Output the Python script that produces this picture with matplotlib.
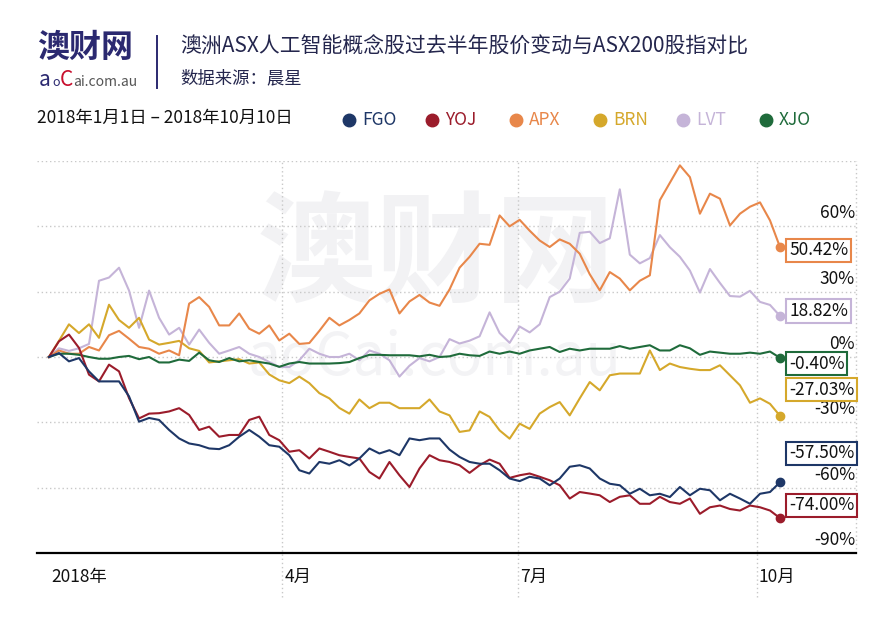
import numpy as np
import pandas as pd
import matplotlib
matplotlib.use('Agg')
import matplotlib.pyplot as plt
from matplotlib.lines import Line2D

plt.rcParams['font.family'] = ['Noto Sans CJK SC', 'DejaVu Sans']

# 74 sample dates, Jan 1 .. Oct 10 2018
dates = pd.date_range('2018-01-01', '2018-10-10', periods=74)

fgo = [0, 1.8, -2, -0.5, -6.6, -11.2, -11.2, -11.2, -18.1, -29.7,
       -28, -28.9, -33.5, -37.4, -39.7, -40.5, -42, -42.3, -40.5, -36.6,
       -33.5, -36.6, -40.5, -41.2, -45.1, -52, -53.5, -48.2, -49, -47.4,
       -49.8, -46.6, -42, -44.3, -42.8, -45.1, -37.4, -38.2, -37.4, -37.4,
       -42.5, -45.9, -48.2, -49, -49, -52, -55.8, -57, -55, -55.8,
       -58.9, -55.8, -50.4, -49.7, -51.2, -55.8, -58.2, -58.9, -62.8, -60.5,
       -63.5, -62.8, -64.3, -59.7, -63.5, -60.5, -61.2, -65.8, -62.8, -65,
       -67.4, -62.8, -62, -57.5]
yoj = [0, 7.2, 10.3, 4.2, -8.1, -11.2, -3.5, -6.6, -18.9, -28.2,
       -26, -25.8, -25, -23.5, -26.6, -33.5, -32, -36.6, -35.8, -35.8,
       -28.9, -27.4, -35.8, -38.2, -43.5, -42.8, -46.6, -42, -43.5, -45.1,
       -45.9, -46.6, -52.8, -55.8, -48.2, -54.3, -59.7, -51.2, -45.1, -47.4,
       -48.2, -49.7, -53.2, -49.7, -47.1, -49, -55.5, -54.3, -53.5, -55,
       -56.6, -58.9, -65, -62, -62.7, -63.5, -66.6, -64.2, -63.5, -67.4,
       -67.4, -64.2, -66.6, -67.4, -65, -72, -69, -68.2, -69.8, -70.5,
       -68.2, -69, -70.5, -74.0]
apx = [0, 3, 1.5, 1.5, 4.6, 3, 10, 12, 8.4, 4.6,
       3.8, 1.5, 3, 0.8, 24.5, 27.5, 23, 14.5, 14.5, 20,
       13, 10.7, 14.5, 7.6, 10.7, 6, 6.4, 12, 18, 14.5,
       17, 20, 26, 29, 31, 20, 25.5, 28.5, 25, 23.5,
       31, 41, 46, 52, 51.5, 65, 60, 63, 58, 53.5,
       50.5, 54, 52, 47.4, 38, 30.6, 39, 36, 30.6, 35,
       37.5, 72, 80, 88, 82.6, 65.8, 75, 72.7, 60.4, 65.8,
       69, 71, 62.7, 50.42]
brn = [0, 7.4, 15, 11, 15, 8.8, 24, 17, 13.4, 18,
       8, 5.7, 6.5, 7.4, 4, 2.8, -2.5, -2, -1.5, -1,
       -3, -2.5, -8, -10.7, -12, -9, -12, -16.6, -19, -23.4,
       -26, -19.5, -23.5, -21, -21, -23.5, -23.5, -23.5, -19.5, -25,
       -26.8, -34.4, -33.7, -25, -27.5, -33.7, -37.5, -30.6, -33, -26,
       -23, -20.7, -26.8, -19, -11.5, -15.3, -8.4, -7.6, -7.6, -7.6,
       3, -6, -3, -4.6, -5.4, -6, -6, -3.8, -8.4, -13,
       -21, -19, -21.5, -27.03]
lvt = [0, 4, 2.8, 4, 6, 35, 36.5, 41, 30.5, 13.4,
       30.5, 18, 10.3, 13.4, 5.7, 12.6, 6.5, 1.5, 3, 4.6,
       1.5, 0, -2.3, -4.6, -4.6, -1.5, 3.8, 1.5, 0, 0,
       1.5, -1.5, 3, 1.5, -1.5, -9, -4, -0.5, -2, 0,
       8.2, 6.2, 7.5, 9.5, 20.5, 11, 6.5, 14, 11.3, 15,
       27.5, 30, 36, 57, 57.5, 52.3, 54.5, 77, 47, 43,
       45.4, 56, 50.4, 46, 39.7, 29.6, 40.4, 34, 28, 27.7,
       30.4, 25.3, 23.9, 18.82]
xjo = [0, 1.5, 1.5, 1, 0, -0.8, -0.8, 0, 0.5, -1,
       0, -2.5, -2.5, -1.2, -1.8, 2, -1.5, -2.3, -0.5, -2,
       -1.5, -2.3, -3, -4.5, -3, -2.3, -3, -3, -3, -2.8,
       -2.3, -0.5, 1, 1, 0.8, 0.8, 0.8, 0.3, 1, 0,
       0.3, 1.5, 0.8, 0.5, 2.5, 1.5, 2.5, 1.5, 3, 3.8,
       4.6, 2.3, 3.8, 3, 3.8, 3.8, 3.8, 5, 3.8, 4.6,
       5.4, 3, 3, 5.4, 4, 1, 2.5, 2, 1.5, 1.5,
       2, 1.5, 2.5, -0.40]

names = ['FGO', 'YOJ', 'APX', 'BRN', 'LVT', 'XJO']
series = [fgo, yoj, apx, brn, lvt, xjo]
colors = ['#1e3767', '#9b1c2b', '#e8874a', '#d5a82b', '#c5b4d8', '#1f6b3b']
end_text = ['-57.50%', '-74.00%', '50.42%', '-27.03%', '18.82%', '-0.40%']
end_dy = [29, 13, -3, 26, 5, -6]   # label box shift (pixels) from end point

tick_dates = ['2018-01-01', '2018-04-01', '2018-07-01', '2018-10-01']
tick_labels = ['2018年', '4月', '7月', '10月']
grid_vals = [90, 60, 30, 0, -30, -60]
ylab_vals = [60, 30, 0, -30, -60, -90]

W, H = 874, 620


def fx(x):
    return x / W


def fy(y):
    return 1 - y / H


fig = plt.figure(figsize=(W / 100, H / 100), dpi=100)
ax = fig.add_axes([fx(37), fy(553), fx(856) - fx(37), fy(161) - fy(553)])
ax.set_facecolor('white')

# watermark
ax.text(fx(436), fy(257), '澳财网', transform=fig.transFigure, fontsize=86, fontweight='bold',
        color='#f2f2f4', ha='center', va='center', zorder=0)
ax.text(fx(434), fy(358), 'aoCai.com.au', transform=fig.transFigure, fontsize=42,
        color='#f3f3f5', ha='center', va='center', zorder=0)

t0 = pd.Timestamp('2018-01-01')
ax.set_xlim(t0 - pd.Timedelta(days=4.6), t0 + pd.Timedelta(days=311.3))
ax.set_ylim(-90, 90)

for v in grid_vals:
    ax.axhline(v, color='#c8c8c8', lw=1, ls=(0, (1, 2)), zorder=1)
ax.axhline(-90, color='black', lw=1.6, zorder=3, clip_on=False)

for d in tick_dates[1:]:
    ax.plot([pd.Timestamp(d)] * 2, [-0.112, 1], transform=ax.get_xaxis_transform(),
            color='#c8c8c8', lw=1, ls=(0, (1, 2)), clip_on=False, zorder=1)
ax.plot([1, 1], [0, 1], transform=ax.transAxes, color='#c8c8c8', lw=1,
        ls=(0, (1, 2)), clip_on=False, zorder=1)

for d, lab in zip(tick_dates, tick_labels):
    ax.annotate(lab, xy=(pd.Timestamp(d), 0), xycoords=('data', 'axes fraction'),
                xytext=(2, -24), textcoords='offset pixels', ha='left', va='center',
                fontsize=12.5, color='#111111')

for v in ylab_vals:
    ax.annotate('{}%'.format(v), xy=(1, v), xycoords=('axes fraction', 'data'),
                xytext=(-1, 13), textcoords='offset pixels', ha='right', va='center',
                fontsize=12.5, color='#111111')

order = [4, 3, 2, 5, 1, 0]
for i in order:
    ax.plot(dates, series[i], color=colors[i], lw=1.5, zorder=4, clip_on=False)
    ax.plot(dates[-1], series[i][-1], 'o', color=colors[i], markersize=6, zorder=5, clip_on=False)
    ax.annotate(end_text[i], xy=(dates[-1], series[i][-1]), xytext=(9, end_dy[i]),
                textcoords='offset pixels', ha='left', va='center', fontsize=12.5,
                color='#111111', zorder=6, annotation_clip=False,
                bbox=dict(boxstyle='square,pad=0.15', fc='white', ec=colors[i], lw=1.5))

for s in ax.spines.values():
    s.set_visible(False)
ax.set_xticks([])
ax.set_yticks([])

# header: logo
fig.text(fx(37), fy(48), '澳财网', fontsize=23, fontweight='bold', color='#2b2970',
         ha='left', va='center')
fig.text(fx(39), fy(86), 'a', fontsize=15, color='#2b2970', ha='left', va='baseline')
fig.text(fx(52), fy(86), 'o', fontsize=9, color='#2b2970', ha='left', va='baseline')
fig.text(fx(60), fy(86), 'C', fontsize=15, color='#c8102e', ha='left', va='baseline')
fig.text(fx(73), fy(86), 'ai.com.au', fontsize=10, color='#555555', ha='left', va='baseline')
fig.add_artist(Line2D([fx(157), fx(157)], [fy(36), fy(88)], transform=fig.transFigure,
                      color='#2b2970', lw=1.4))

fig.text(fx(180), fy(47), '澳洲ASX人工智能概念股过去半年股价变动与ASX200股指对比',
         fontsize=15, color='#24264d', ha='left', va='center')
fig.text(fx(180), fy(78), '数据来源：晨星', fontsize=12.5, color='#24264d',
         ha='left', va='center')
fig.text(fx(37), fy(118), '2018年1月1日 – 2018年10月10日', fontsize=12.5, color='#111111',
         ha='left', va='center')

# legend
leg_x = [349, 432, 516, 600, 683, 766]
for i in range(len(names)):
    fig.add_artist(Line2D([fx(leg_x[i])], [fy(120)], transform=fig.transFigure, marker='o',
                          ls='', color=colors[i], markersize=9))
    fig.text(fx(leg_x[i] + 13), fy(120), names[i], fontsize=12.5, color=colors[i],
             ha='left', va='center')

plt.savefig('out.png', dpi=100, facecolor='white')
plt.close()
